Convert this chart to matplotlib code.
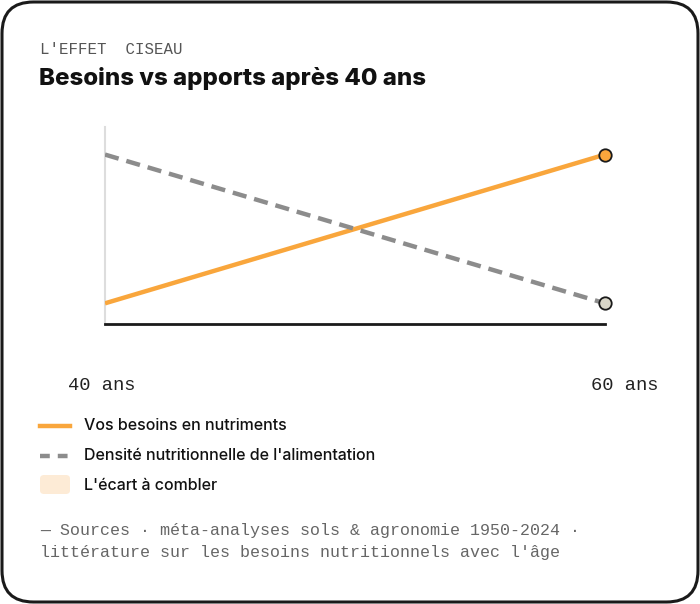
import numpy as np
import matplotlib.pyplot as plt
from matplotlib.patches import FancyBboxPatch
from matplotlib.lines import Line2D

# data
ages = [40, 60]
besoins = [10.5, 86]
densite = [86, 10.5]
tick_labels = ["40 ans", "60 ans"]

orange = "#f9a63c"
gris = "#8c8c8c"
mono = "Liberation Mono"

W, H = 700, 604
fig = plt.figure(figsize=(W / 100, H / 100), dpi=100)
fig.patch.set_facecolor("white")

# card border
card = FancyBboxPatch((2 / W, 2 / H), (W - 4) / W, (H - 4) / H,
                      boxstyle="round,pad=0,rounding_size=0.045",
                      transform=fig.transFigure, facecolor="none",
                      edgecolor="#1a1a1a", linewidth=2.2, mutation_aspect=W / H)
fig.patches.append(card)

def fx(px):
    return px / W

def fy(py):
    return 1 - py / H

fig.text(fx(40), fy(49), "L'EFFET  CISEAU", family=mono, fontsize=11.3,
         color="#555555", va="center")
fig.text(fx(39), fy(78), "Besoins vs apports après 40 ans", family="Inter",
         fontweight=800, fontsize=17.3, color="#111111", va="center")

# plot area
ax = fig.add_axes([fx(105), fy(324), fx(605) - fx(105), fy(127) - fy(324)])
ax.set_xlim(40, 60)
ax.set_ylim(0, 100)
ax.plot(ages, besoins, color=orange, linewidth=3.2, solid_capstyle="butt", zorder=3)
ax.plot(ages, densite, color=gris, linewidth=3.2, dashes=(3.2, 1.8), zorder=3)
ax.scatter([ages[-1]], [besoins[-1]], s=80, color=orange, edgecolor="#1a1a1a",
           linewidth=1.3, zorder=5, clip_on=False)
ax.scatter([ages[-1]], [densite[-1]], s=80, color="#d9d6c8", edgecolor="#1a1a1a",
           linewidth=1.3, zorder=5, clip_on=False)
for s in ["top", "right"]:
    ax.spines[s].set_visible(False)
ax.spines["left"].set_color("#dddddd")
ax.spines["left"].set_linewidth(1.5)
ax.spines["bottom"].set_color("#1a1a1a")
ax.spines["bottom"].set_linewidth(2)
ax.set_yticks([])
ax.set_xticks([])
ax.patch.set_alpha(0)

# x labels
fig.text(fx(102), fy(386), tick_labels[0], family=mono, fontsize=13.5,
         color="#222222", ha="center", va="center")
fig.text(fx(625), fy(386), tick_labels[1], family=mono, fontsize=13.5,
         color="#222222", ha="center", va="center")

# legend
fig.add_artist(Line2D([fx(40), fx(70)], [fy(426), fy(426)], color=orange,
                      linewidth=3.2, transform=fig.transFigure))
fig.add_artist(Line2D([fx(40), fx(70)], [fy(456), fy(456)], color=gris,
                      linewidth=3.2, dashes=(2.2, 1.8), transform=fig.transFigure))
leg_patch = FancyBboxPatch((fx(40), fy(494)), fx(30), 19 / H,
                           boxstyle="round,pad=0,rounding_size=0.006",
                           transform=fig.transFigure, facecolor="#fdebd6",
                           edgecolor="none")
fig.patches.append(leg_patch)
legend_labels = ["Vos besoins en nutriments",
                 "Densité nutritionnelle de l'alimentation",
                 "L'écart à combler"]
for i, lab in enumerate(legend_labels):
    fig.text(fx(84), fy(426 + 30 * i), lab, family="Inter", fontsize=11.5,
             fontweight=500, color="#111111", va="center")

# footer
fig.text(fx(40), fy(530), "— Sources · méta-analyses sols & agronomie 1950-2024 ·",
         family=mono, fontsize=12, color="#666666", va="center")
fig.text(fx(40), fy(552), "littérature sur les besoins nutritionnels avec l'âge",
         family=mono, fontsize=12, color="#666666", va="center")

fig.savefig("out.png", dpi=100, facecolor="white")
